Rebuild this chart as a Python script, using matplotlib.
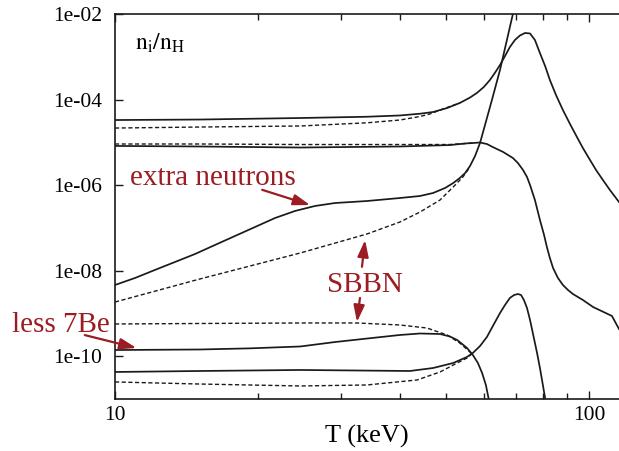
import matplotlib
matplotlib.use("Agg")
import matplotlib.pyplot as plt
from matplotlib.ticker import FixedLocator, NullFormatter, NullLocator

plt.rcParams["font.family"] = ["Liberation Serif", "DejaVu Serif"]
plt.rcParams["mathtext.fontset"] = "stix"

# abundance curves, T in keV, n_i/n_H
T_a = [10, 15.1, 24.6, 34.0, 39.9, 44.0, 46.9, 50.2, 53.4, 56.1, 58.0, 60.0,
       61.8, 63.3, 64.9, 66.5, 68.1, 69.8, 71.5, 73.3, 75.1, 76.9, 78.8, 80.8,
       82.7, 85.2, 88.1, 91.2, 94.3, 97.1, 100.5, 103.5, 107.0, 110.7, 115.7]
n_a = [3.31e-5, 3.40e-5, 3.69e-5, 3.95e-5, 4.23e-5, 4.65e-5, 5.1e-5, 6.32e-5,
       8.3e-5, 1.11e-4, 1.42e-4, 1.96e-4, 2.86e-4, 4.17e-4, 6.41e-4, 1.04e-3,
       1.69e-3, 2.47e-3, 3.14e-3, 3.6e-3, 3.5e-3, 2.47e-3, 1.22e-3, 6.08e-4,
       2.86e-4, 1.27e-4, 5.67e-5, 2.67e-5, 1.33e-5, 7.3e-6, 3.85e-6, 2.24e-6,
       1.31e-6, 7.64e-7, 4.0e-7]
T_a_sbbn = [10, 15.1, 24.6, 34.0, 39.9, 44.0, 46.2, 49.2, 53.4]
n_a_sbbn = [2.15e-5, 2.27e-5, 2.40e-5, 2.85e-5, 3.31e-5, 4.0e-5, 4.6e-5,
            6.0e-5, 8.3e-5]

T_b = [10, 15.1, 24.6, 39.9, 50.9, 54.8, 56.9, 58.9, 60.9, 62.7, 65.9, 69.1,
       70.8, 72.6, 74.0, 75.1, 76.9, 78.8, 80.4, 81.5, 82.7, 84.0, 86.0, 88.1,
       90.3, 92.5, 97.1, 102, 111.8, 115.7]
n_b = [8.2e-6, 7.96e-6, 7.53e-6, 7.96e-6, 8.6e-6, 9.35e-6, 9.6e-6, 9.86e-6,
       9.1e-6, 7.7e-6, 5.92e-6, 4.28e-6, 3.27e-6, 2.24e-6, 1.54e-6, 1.0e-6,
       4.46e-7, 1.52e-7, 6.76e-8, 3.55e-8, 1.96e-8, 1.14e-8, 6.68e-9, 4.58e-9,
       3.50e-9, 2.82e-9, 2.04e-9, 1.40e-9, 8.63e-10, 4.28e-10]
T_b_sbbn = [10, 15.1, 24.6, 39.9, 50.9, 56.9]
n_b_sbbn = [9.1e-6, 9.1e-6, 8.85e-6, 8.85e-6, 8.85e-6, 9.6e-6]

T_c = [10, 11.02, 12.14, 13.38, 14.75, 16.25, 17.91, 19.74, 21.76, 23.98,
       26.42, 29.12, 34.0, 39.9, 44.0, 46.9, 49.7, 51.7, 53.4, 54.8, 56.1,
       57.5, 58.9, 62.4, 64.9, 69.1, 71.5]
n_c = [4.58e-9, 6.68e-9, 1.03e-8, 1.58e-8, 2.43e-8, 3.95e-8, 6.41e-8, 1.04e-7,
       1.69e-7, 2.47e-7, 3.23e-7, 3.79e-7, 4.22e-7, 4.96e-7, 5.53e-7, 6.5e-7,
       8.51e-7, 1.11e-6, 1.46e-6, 1.91e-6, 2.78e-6, 4.77e-6, 9.6e-6, 9.7e-5,
       4.9e-4, 1e-2, 4.5e-2]
T_c_sbbn = [10, 15.1, 24.6, 34.0, 39.9, 44.0, 48.5, 51.7, 54.2, 56.1]
n_c_sbbn = [1.83e-9, 6.33e-9, 2.57e-8, 7.14e-8, 1.36e-7, 2.33e-7, 4.46e-7,
            8.98e-7, 1.54e-6, 2.64e-6]

T_d = [10, 15.1, 19.27, 24.6, 29.1, 34.0, 39.9, 44.0, 48.5, 50.9, 52.7, 54.0,
       55.3, 56.9, 58.3, 59.5, 60.6, 61.2, 62.1]
n_d = [1.38e-10, 1.42e-10, 1.51e-10, 1.67e-10, 2.12e-10, 2.56e-10, 3.10e-10,
       3.36e-10, 3.27e-10, 2.86e-10, 2.37e-10, 1.91e-10, 1.54e-10, 1.05e-10,
       6.86e-11, 4.0e-11, 2.10e-11, 1.22e-11, 5.5e-12]
T_d_sbbn = [10, 15.1, 24.6, 32.4, 39.9, 45.5, 50.2, 53.4, 56.1, 56.9]
n_d_sbbn = [5.61e-10, 5.76e-10, 5.92e-10, 5.92e-10, 5.31e-10, 4.52e-10,
            3.10e-10, 2.01e-10, 1.24e-10, 1.05e-10]

T_e = [10, 15.1, 24.6, 41.9, 46.9, 51.7, 55.3, 56.9, 58.9, 60.9, 62.7, 64.9,
       66.5, 68.1, 69.5, 70.8, 71.9, 72.9, 74.0, 75.1, 76.2, 77.7, 78.8, 79.6,
       80.8, 81.5]
n_e = [4.23e-11, 4.46e-11, 4.71e-11, 4.46e-11, 5.24e-11, 6.86e-11, 9.5e-11,
       1.18e-10, 1.71e-10, 2.78e-10, 5.04e-10, 1.01e-9, 1.56e-9, 2.28e-9,
       2.67e-9, 2.82e-9, 2.67e-9, 2.04e-9, 1.33e-9, 6.95e-10, 3.27e-10,
       1.18e-10, 5.24e-11, 2.75e-11, 1.04e-11, 5.5e-12]
T_e_sbbn = [10, 15.1, 24.6, 34.0, 43.4, 48.5, 52.7, 55.3, 56.9]
n_e_sbbn = [2.47e-11, 2.21e-11, 1.99e-11, 2.10e-11, 2.75e-11, 4.23e-11,
            6.86e-11, 8.98e-11, 1.18e-10]

ytick_vals = [1e-10, 1e-8, 1e-6, 1e-4, 1e-2]
ytick_labels = ["1e-10", "1e-08", "1e-06", "1e-04", "1e-02"]
xtick_vals = [10, 100]
xtick_labels = ["10", "100"]
xminor_vals = [20, 30, 40, 50, 60, 70, 80, 90]

red = "#9b1c22"
ink = "#1a1a1a"

fig = plt.figure(figsize=(6.19, 4.51), dpi=100)
ax = fig.add_axes([115 / 619, 1 - 398.75 / 451, 504 / 619, 384.75 / 451])

solid = [(T_a, n_a), (T_b, n_b), (T_c, n_c), (T_d, n_d), (T_e, n_e)]
dashed = [(T_a_sbbn, n_a_sbbn), (T_b_sbbn, n_b_sbbn), (T_c_sbbn, n_c_sbbn),
          (T_d_sbbn, n_d_sbbn), (T_e_sbbn, n_e_sbbn)]
for t, n in dashed:
    ax.plot(t, n, color=ink, lw=1.0, dashes=(3, 1.8))
for t, n in solid:
    ax.plot(t, n, color=ink, lw=1.25, solid_joinstyle="round")

ax.set_xscale("log")
ax.set_yscale("log")
ax.set_xlim(10, 115.7)
ax.set_ylim(1e-11, 1e-2)

ax.xaxis.set_major_locator(FixedLocator(xtick_vals))
ax.set_xticklabels(xtick_labels)
ax.xaxis.set_minor_locator(FixedLocator(xminor_vals))
ax.xaxis.set_minor_formatter(NullFormatter())
ax.yaxis.set_major_locator(FixedLocator(ytick_vals))
ax.set_yticklabels(ytick_labels)
ax.yaxis.set_minor_locator(NullLocator())

ax.tick_params(which="both", direction="in", top=True, right=False,
               labelsize=15.5, width=1.0, color=ink)
ax.tick_params(which="major", length=6)
ax.tick_params(which="minor", length=4)
ax.tick_params(axis="y", pad=9)
ax.tick_params(axis="x", pad=5.5)
for side in ["left", "top", "bottom"]:
    ax.spines[side].set_linewidth(1.2)
    ax.spines[side].set_color(ink)
ax.spines["right"].set_visible(False)

ax.set_xlabel("T (keV)", fontsize=19, labelpad=0)
ax.text(0.04, 0.906, r"$\mathrm{n_i/n_H}$", transform=ax.transAxes,
        fontsize=17, va="baseline", ha="left")

arrow = dict(arrowstyle="-|>,head_length=1.0,head_width=0.33", color=red,
             lw=1.6, shrinkA=0, shrinkB=0)

ax.text(0.030, 0.556, "extra neutrons", transform=ax.transAxes,
        fontsize=21, color=red, va="baseline", ha="left")
ax.annotate("", xy=(25.8, 3.4e-7), xytext=(0.292, 0.543),
            textcoords="axes fraction", arrowprops=arrow)

ax.text(0.496, 0.278, "SBBN", transform=ax.transAxes,
        fontsize=21, color=red, va="baseline", ha="center")
ax.annotate("", xy=(33.7, 5.16e-8), xytext=(0.490, 0.343),
            textcoords="axes fraction", arrowprops=arrow)
ax.annotate("", xy=(32.4, 6.24e-10), xytext=(0.486, 0.262),
            textcoords="axes fraction", arrowprops=arrow)

fig.text(0.019, 0.264, "less 7Be", fontsize=21, color=red,
         va="baseline", ha="left")
ax.annotate("", xy=(11.1, 1.54e-10), xytext=(0.137, 0.257),
            textcoords="figure fraction", arrowprops=arrow,
            annotation_clip=False)

fig.savefig("out.png", dpi=100)
